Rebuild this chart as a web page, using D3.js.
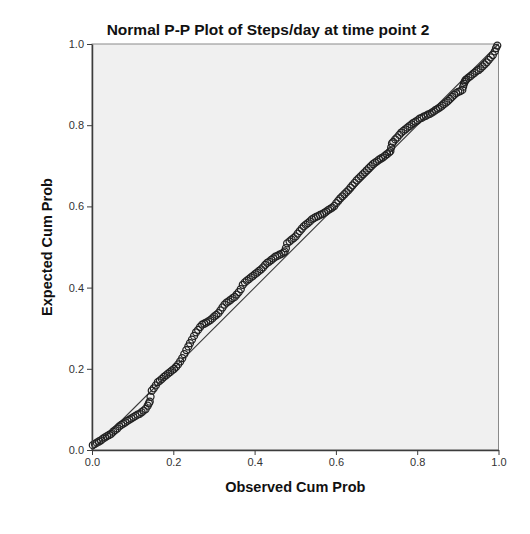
<!DOCTYPE html>
<html>
<head>
<meta charset="utf-8">
<script src="https://cdn.jsdelivr.net/npm/d3@7"></script>
<style>
  body { margin: 0; background: #fff; }
  svg { display: block; }
  text { font-family: Arial, "Liberation Sans", sans-serif; }
</style>
</head>
<body>
<svg id="chart" width="530" height="534"></svg>
<script>
const title = "Normal P-P Plot of Steps/day at time point 2";
const xLabel = "Observed Cum Prob";
const yLabel = "Expected Cum Prob";
const tickValues = [0, 0.2, 0.4, 0.6, 0.8, 1.0];
const reference = [0, 1];

// one entry per circle
const observed = [
  0.002, 0.007, 0.012, 0.017, 0.022, 0.027, 0.032, 0.037, 0.042, 0.047,
  0.052, 0.057, 0.062, 0.067, 0.072, 0.077, 0.082, 0.087, 0.092, 0.097,
  0.102, 0.107, 0.112, 0.117, 0.122, 0.127, 0.132, 0.137, 0.140, 0.142,
  0.144, 0.147, 0.152, 0.157, 0.162, 0.167, 0.172, 0.177, 0.182, 0.187,
  0.192, 0.197, 0.202, 0.207, 0.212, 0.217, 0.222, 0.227, 0.232, 0.237,
  0.241, 0.246, 0.251, 0.256, 0.261, 0.266, 0.271, 0.276, 0.281, 0.286,
  0.291, 0.296, 0.301, 0.306, 0.311, 0.316, 0.321, 0.326, 0.331, 0.336,
  0.341, 0.346, 0.351, 0.356, 0.361, 0.366, 0.371, 0.376, 0.381, 0.386,
  0.391, 0.396, 0.401, 0.406, 0.411, 0.416, 0.421, 0.426, 0.431, 0.436,
  0.441, 0.446, 0.451, 0.456, 0.461, 0.466, 0.471, 0.474, 0.477, 0.480,
  0.486, 0.491, 0.496, 0.501, 0.506, 0.511, 0.516, 0.521, 0.526, 0.531,
  0.536, 0.541, 0.546, 0.551, 0.556, 0.561, 0.566, 0.571, 0.576, 0.581,
  0.586, 0.591, 0.596, 0.601, 0.606, 0.611, 0.616, 0.621, 0.626, 0.631,
  0.636, 0.641, 0.646, 0.651, 0.656, 0.661, 0.666, 0.671, 0.676, 0.681,
  0.686, 0.691, 0.696, 0.701, 0.706, 0.711, 0.716, 0.721, 0.726, 0.731,
  0.734, 0.736, 0.738, 0.741, 0.746, 0.751, 0.756, 0.761, 0.766, 0.771,
  0.776, 0.781, 0.786, 0.791, 0.796, 0.801, 0.806, 0.811, 0.816, 0.821,
  0.826, 0.831, 0.836, 0.841, 0.846, 0.851, 0.856, 0.861, 0.866, 0.871,
  0.876, 0.881, 0.886, 0.891, 0.896, 0.901, 0.906, 0.911, 0.913, 0.915,
  0.917, 0.919, 0.921, 0.926, 0.931, 0.936, 0.941, 0.946, 0.951, 0.956,
  0.961, 0.966, 0.971, 0.976, 0.981, 0.986, 0.991, 0.994, 0.997
];
const expected = [
  0.012, 0.015, 0.018, 0.021, 0.024, 0.028, 0.031, 0.034, 0.037, 0.040,
  0.045, 0.049, 0.053, 0.058, 0.062, 0.065, 0.068, 0.072, 0.075, 0.078,
  0.081, 0.084, 0.087, 0.089, 0.093, 0.097, 0.101, 0.109, 0.115, 0.119,
  0.131, 0.146, 0.152, 0.159, 0.167, 0.171, 0.175, 0.180, 0.184, 0.188,
  0.192, 0.196, 0.200, 0.205, 0.211, 0.218, 0.226, 0.236, 0.246, 0.255,
  0.263, 0.272, 0.281, 0.290, 0.296, 0.303, 0.309, 0.311, 0.314, 0.317,
  0.320, 0.324, 0.329, 0.333, 0.337, 0.344, 0.351, 0.358, 0.363, 0.366,
  0.370, 0.374, 0.377, 0.383, 0.389, 0.396, 0.407, 0.413, 0.417, 0.421,
  0.425, 0.429, 0.433, 0.437, 0.441, 0.445, 0.450, 0.456, 0.461, 0.464,
  0.468, 0.472, 0.476, 0.478, 0.481, 0.483, 0.486, 0.489, 0.497, 0.509,
  0.514, 0.518, 0.522, 0.526, 0.533, 0.539, 0.545, 0.551, 0.555, 0.559,
  0.563, 0.568, 0.571, 0.574, 0.576, 0.579, 0.581, 0.584, 0.587, 0.591,
  0.594, 0.597, 0.601, 0.608, 0.614, 0.620, 0.625, 0.630, 0.635, 0.640,
  0.646, 0.652, 0.658, 0.664, 0.669, 0.674, 0.679, 0.684, 0.689, 0.694,
  0.699, 0.704, 0.708, 0.711, 0.715, 0.718, 0.721, 0.725, 0.729, 0.733,
  0.736, 0.745, 0.755, 0.759, 0.765, 0.770, 0.776, 0.782, 0.786, 0.790,
  0.794, 0.798, 0.802, 0.806, 0.809, 0.812, 0.816, 0.818, 0.821, 0.823,
  0.826, 0.828, 0.831, 0.834, 0.838, 0.841, 0.844, 0.848, 0.852, 0.856,
  0.860, 0.865, 0.870, 0.875, 0.879, 0.882, 0.884, 0.887, 0.895, 0.902,
  0.907, 0.911, 0.913, 0.917, 0.921, 0.925, 0.929, 0.933, 0.936, 0.940,
  0.945, 0.950, 0.955, 0.961, 0.967, 0.973, 0.982, 0.990, 0.996
];

const svg = d3.select('#chart');
const x = d3.scaleLinear().domain([0, 1]).range([92, 498.5]);
const y = d3.scaleLinear().domain([0, 1]).range([450, 44]);
const fmt = d3.format('.1f');

// plot area
svg.append('rect')
    .attr('x', x(0))
    .attr('y', y(1))
    .attr('width', x(1) - x(0))
    .attr('height', y(0) - y(1))
    .attr('fill', '#f0f0f0')
    .attr('stroke', '#8a8a8a')
    .attr('stroke-width', 1);

// diagonal reference line
svg.append('line')
    .attr('x1', x(reference[0])).attr('y1', y(reference[0]))
    .attr('x2', x(reference[1])).attr('y2', y(reference[1]))
    .attr('stroke', '#3a3a3a')
    .attr('stroke-width', 1.1);

const pts = d3.range(Math.min(observed.length, expected.length))
    .map(i => ({ o: observed[i], e: expected[i] }));

svg.append('g')
    .selectAll('circle')
    .data(pts)
    .enter()
    .append('circle')
    .attr('cx', d => x(d.o))
    .attr('cy', d => y(d.e))
    .attr('r', 3.5)
    .attr('fill', 'none')
    .attr('stroke', '#222')
    .attr('stroke-width', 1.25);

const styleAxis = g => {
    g.select('.domain').attr('stroke', '#3c3c3c').attr('stroke-width', 1.5);
    g.selectAll('.tick line').attr('stroke', '#3c3c3c');
    g.selectAll('.tick text')
        .attr('font-size', 11)
        .attr('fill', '#333')
        .attr('font-family', 'Arial, "Liberation Sans", sans-serif');
};

svg.append('g')
    .attr('transform', `translate(0,${y(0)})`)
    .call(d3.axisBottom(x).tickValues(tickValues).tickFormat(fmt).tickSize(5).tickSizeOuter(0))
    .call(styleAxis);

svg.append('g')
    .attr('transform', `translate(${x(0)},0)`)
    .call(d3.axisLeft(y).tickValues(tickValues).tickFormat(fmt).tickSize(5).tickSizeOuter(0))
    .call(styleAxis);

svg.append('text')
    .attr('x', 268)
    .attr('y', 35)
    .attr('text-anchor', 'middle')
    .attr('font-size', 15.5)
    .attr('font-weight', 'bold')
    .attr('fill', '#111')
    .text(title);

svg.append('text')
    .attr('x', (x(0) + x(1)) / 2)
    .attr('y', 492)
    .attr('text-anchor', 'middle')
    .attr('font-size', 14.5)
    .attr('font-weight', 'bold')
    .attr('fill', '#111')
    .text(xLabel);

svg.append('text')
    .attr('transform', `translate(52,${(y(0) + y(1)) / 2}) rotate(-90)`)
    .attr('text-anchor', 'middle')
    .attr('font-size', 14.5)
    .attr('font-weight', 'bold')
    .attr('fill', '#111')
    .text(yLabel);
</script>
</body>
</html>
